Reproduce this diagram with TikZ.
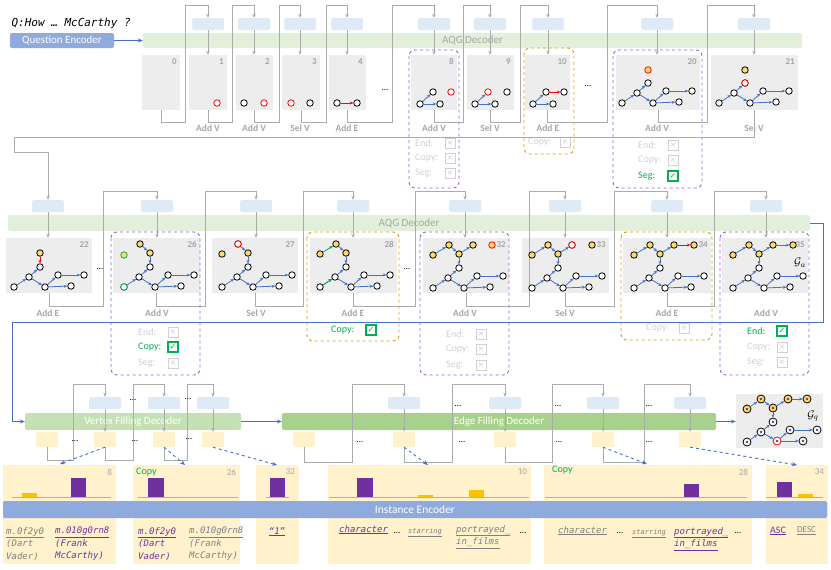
\documentclass[tikz,border=0pt]{standalone}
\usepackage{fontspec}
\setmainfont{Carlito}
\setmonofont{DejaVu Sans Mono}
\newfontfamily\symfont{DejaVu Sans}
\usetikzlibrary{arrows.meta,calc,positioning,fit}

\definecolor{panelgray}{HTML}{EDEDED}
\definecolor{hidblue}{HTML}{DEEBF7}
\definecolor{aqggreen}{HTML}{E2EFDA}
\definecolor{vfdgreen}{HTML}{C5E0B4}
\definecolor{efdgreen}{HTML}{A9D18E}
\definecolor{encblue}{HTML}{8FAADC}
\definecolor{outyel}{HTML}{FFF2CC}
\definecolor{linegray}{HTML}{ABABAB}
\definecolor{lblgray}{HTML}{A6A6A6}
\definecolor{faintgray}{HTML}{D0D0D0}
\definecolor{boxpurple}{HTML}{9B5FD0}
\definecolor{boxgold}{HTML}{D4A017}
\definecolor{okgreen}{HTML}{00B050}
\definecolor{gblue}{HTML}{4472C4}
\definecolor{barpurple}{HTML}{7030A0}
\definecolor{baryel}{HTML}{FFC000}
\definecolor{nodeyel}{HTML}{FFD966}
\definecolor{txtgray}{HTML}{808080}
\definecolor{axisblue}{HTML}{9FB4D8}

\tikzset{
  panel/.style={fill=panelgray, inner sep=0pt},
  pnum/.style={anchor=north east, inner sep=1pt, text=lblgray, font=\fontsize{9}{10}\selectfont\bfseries},
  hid/.style={fill=hidblue, rounded corners=1.5pt, minimum width=32pt, minimum height=12pt, inner sep=0pt},
  outbox/.style={fill=outyel, minimum width=22pt, minimum height=15pt, inner sep=0pt},
  bar/.style={rounded corners=2pt, inner sep=0pt},
  bartext/.style={inner sep=0pt, font=\fontsize{11}{12}\selectfont},
  flow/.style={draw=linegray, line width=0.9pt, -{Stealth[length=4pt,width=3.5pt]}},
  bflow/.style={draw=gblue, line width=0.9pt, -{Stealth[length=5pt,width=4pt]}},
  dflow/.style={bflow, dashed},
  op/.style={text=lblgray, font=\fontsize{9.5}{10}\selectfont\bfseries, inner sep=0pt},
  vtx/.style={circle, draw=black, fill=white, line width=0.8pt, minimum size=6.5pt, inner sep=0pt},
  newv/.style={draw=red},
  cpv/.style={fill=nodeyel},
  gedge/.style={draw=gblue, line width=0.8pt, -{Stealth[length=3.5pt,width=3pt]}},
  redge/.style={gedge, draw=red},
  cedge/.style={gedge, draw=okgreen},
  pdash/.style={draw=boxpurple, dashed, line width=0.9pt, rounded corners=6pt},
  gdash/.style={pdash, draw=boxgold},
  cblbl/.style={anchor=west, inner sep=0pt, text=faintgray, font=\fontsize{10}{11}\selectfont},
  cbx/.style={draw=faintgray, line width=0.8pt, text=faintgray, minimum size=10pt, inner sep=0pt, font=\symfont\fontsize{8}{8}\selectfont},
  cbgood/.style={draw=okgreen, text=okgreen, line width=1.1pt},
  dots/.style={inner sep=0pt, font=\fontsize{9}{10}\selectfont},
  dpanel/.style={fill=outyel, inner sep=0pt},
  dnum/.style={anchor=north east, inner sep=1pt, text=lblgray, font=\fontsize{9}{10}\selectfont},
  ent/.style={anchor=north west, align=left, inner sep=0pt, font=\ttfamily\itshape\fontsize{9}{12.5}\selectfont},
  axisline/.style={draw=axisblue, line width=0.8pt},
  qv/.style={vtx, minimum size=8pt, path picture={\fill[barpurple] (path picture bounding box.center) circle (1.4pt);}},
}

% graph panel with its step number
\newcommand{\gpanel}[6]{%
  \node[panel, fit={(#2,#3) (#4,#5)}] (#1) {};
  \node[pnum] (#1n) at (#4-2,#3+2) {#6};
}
% the lower part of the query graph
\newcommand{\basegraph}[3]{%
  \node[vtx] (#1a) at (#2,#3) {};
  \node[vtx] (#1b) at (#2+15,#3-10) {};
  \node[vtx] (#1c) at (#2+26,#3-20) {};
  \node[vtx] (#1d) at (#2+31,#3) {};
  \node[vtx] (#1e) at (#2+44,#3-12) {};
  \node[vtx] (#1f) at (#2+70,#3-12) {};
  \node[vtx] (#1g) at (#2+57,#3-1) {};
  \draw[gedge] (#1a) -- (#1b);
  \draw[gedge] (#1b) -- (#1c);
  \draw[gedge] (#1b) -- (#1d);
  \draw[gedge] (#1d) -- (#1e);
  \draw[gedge] (#1e) -- (#1f);
  \draw[gedge] (#1d) -- (#1g);
}
% copied vertices above it
\newcommand{\topchain}[3]{%
  \node[vtx,cpv] (#1y2) at (#2+16,#3-43) {};
  \node[vtx,cpv] (#1y3) at (#2+26,#3-34) {};
  \draw[gedge] (#1y2) -- (#1y3);
  \draw[gedge] (#1y3) -- (#1c);
}
\newcommand{\fullchain}[3]{%
  \node[vtx,cpv] (#1y1) at (#2,#3-33) {};
  \node[vtx,cpv] (#1y4) at (#2+40,#3-43) {};
  \draw[gedge] (#1y1) -- (#1y2);
  \draw[gedge] (#1y3) -- (#1y4);
}
\newcommand{\chkno}[5]{\node[cblbl] (#1l) at (#2,#4) {#5}; \node[cbx] (#1) at (#3,#4) {×};}
\newcommand{\chkok}[5]{\node[cblbl,text=okgreen] (#1l) at (#2,#4) {#5}; \node[cbx,cbgood] (#1) at (#3,#4) {✓};}

\begin{document}
\begin{tikzpicture}[x=1pt,y=-1pt]
\useasboundingbox (0,0) rectangle (831,570);
\coordinate (top1) at (0,5);
\coordinate (top2) at (0,191);
\coordinate (top3) at (0,384);
\coordinate (lab1) at (0,128);
\coordinate (lab2) at (0,313);

% ---------- row 1 ----------
\node[anchor=west, font=\ttfamily\itshape\fontsize{11}{12}\selectfont] (qtext) at (8,23) {Q:How … McCarthy ?};
\node[bar, fill=encblue, fit={(10,33) (114,48)}] (qenc) {};
\node[bartext, text=white] (qenct) at (qenc) {Question Encoder};
\node[bar, fill=aqggreen, fit={(143,33) (802,48)}] (aqg1) {};
\node[bartext, text=lblgray] (aqg1t) at (aqg1) {AQG Decoder};
\draw[bflow] (qenc) -- (aqg1);

\gpanel{p0}{142}{55}{180}{110}{0}
\gpanel{p1}{189}{55}{227}{110}{1}
\gpanel{p2}{236}{55}{273}{110}{2}
\gpanel{p3}{282}{55}{320}{110}{3}
\gpanel{p4}{329}{55}{366}{110}{4}
\gpanel{p8}{411}{55}{457}{110}{8}
\gpanel{p9}{467}{55}{514}{110}{9}
\gpanel{p10}{525}{55}{570}{110}{10}
\gpanel{p20}{616}{55}{700}{110}{20}
\gpanel{p21}{711}{55}{798}{110}{21}

\foreach \n/\x in {1/208,2/254,3/300,4/347,8/434,9/490,10/548,20/657,21/754}
  \node[hid] (h\n) at (\x,24) {};
\foreach \n in {1,2,3,4,8,9,10,20,21}
  \draw[flow] (h\n) -- (h\n |- p\n.north);
\foreach \a/\x/\b in {0/185/1,1/232/2,2/279/3,3/326/4,4/392/8,8/463/9,9/520/10,10/607/20,20/707/21}
  \draw[flow] (p\a.south) |- (\x,122) |- (h\b |- top1) -- (h\b);
\foreach \n/\t in {1/Add V,2/Add V,3/Sel V,4/Add E,8/Add V,9/Sel V,10/Add E,20/Add V,21/Sel V}
  \node[op] (op\n) at (h\n |- lab1) {\t};

\node[vtx,newv] (g1a) at (217,103) {};
\node[vtx] (g2a) at (244,103) {};
\node[vtx,newv] (g2b) at (264,103) {};
\node[vtx,newv] (g3a) at (291,103) {};
\node[vtx] (g3b) at (310,103) {};
\node[vtx] (g4a) at (337,103) {};
\node[vtx] (g4b) at (357,103) {};
\draw[redge] (g4a) -- (g4b);
\node[vtx] (g8a) at (420,104) {};
\node[vtx] (g8b) at (433,92) {};
\node[vtx] (g8c) at (440,104) {};
\node[vtx,newv] (g8d) at (451,92) {};
\draw[gedge] (g8a) -- (g8b);
\draw[gedge] (g8a) -- (g8c);
\node[vtx] (g9a) at (475,104) {};
\node[vtx,newv] (g9b) at (488,92) {};
\node[vtx] (g9c) at (495,104) {};
\node[vtx] (g9d) at (507,92) {};
\draw[gedge] (g9a) -- (g9b);
\draw[gedge] (g9a) -- (g9c);
\node[vtx] (g10a) at (533,104) {};
\node[vtx] (g10b) at (546,92) {};
\node[vtx] (g10c) at (553,104) {};
\node[vtx] (g10d) at (564,92) {};
\draw[gedge] (g10a) -- (g10b);
\draw[gedge] (g10a) -- (g10c);
\draw[redge] (g10b) -- (g10d);
\basegraph{g20}{622}{103}
\node[vtx,newv,cpv] (g20h) at (648,70) {};
\basegraph{g21}{719}{103}
\node[vtx,newv] (g21s) at (g21c) {};
\node[vtx,cpv] (g21h) at (745,70) {};

\node[dots] (dot1) at (385,90) {…};
\node[dots] (dot2) at (588,86) {…};

\draw[pdash] (409,50) rectangle (459,188);
\draw[gdash] (524,48) rectangle (574,154);
\draw[pdash] (613,50) rectangle (702,188);
\chkno{c8a}{415}{450}{143}{End:}
\chkno{c8b}{415}{450}{158}{Copy:}
\chkno{c8c}{415}{450}{173}{Seg:}
\chkno{c10a}{528}{565}{142}{Copy:}
\chkno{c20a}{638}{673}{145}{End:}
\chkno{c20b}{638}{673}{160}{Copy:}
\chkok{c20c}{638}{673}{176}{Seg:}

% ---------- row 2 ----------
\node[bar, fill=aqggreen, fit={(8,215) (810,231)}] (aqg2) {};
\node[bartext, text=lblgray] (aqg2t) at (aqg2) {AQG Decoder};

\gpanel{p22}{6}{238}{92}{293}{22}
\gpanel{p26}{113}{238}{200}{293}{26}
\gpanel{p27}{212}{238}{298}{293}{27}
\gpanel{p28}{310}{238}{397}{293}{28}
\gpanel{p32}{423}{238}{509}{293}{32}
\gpanel{p33}{522}{238}{609}{293}{33}
\gpanel{p34}{623}{238}{711}{293}{34}
\gpanel{p35}{722}{238}{808}{293}{35}

\foreach \n/\x in {22/48,26/157,27/256,28/353,32/465,33/565,34/667,35/766}
  \node[hid] (h\n) at (\x,206) {};
\foreach \n in {22,26,27,28,32,33,34,35}
  \draw[flow] (h\n) -- (h\n |- p\n.north);
\draw[flow] (p21.south) |- (14,137) -- (14,152) -| (h22);
\foreach \a/\x/\b in {22/103/26,26/205/27,27/303/28,28/415/32,32/529/33,33/614/34,34/714/35}
  \draw[flow] (p\a.south) |- (\x,306) |- (h\b |- top2) -- (h\b);
\foreach \n/\t in {22/Add E,26/Add V,27/Sel V,28/Add E,32/Add V,33/Sel V,34/Add E,35/Add V}
  \node[op] (op\n) at (h\n |- lab2) {\t};

\basegraph{g22}{14}{287}
\node[vtx,cpv] (g22h) at (40,253) {};
\draw[redge] (g22h) -- (g22c);
\basegraph{g26}{124}{287}
\node[vtx,draw=okgreen] (g26s) at (g26a) {};
\topchain{g26}{124}{287}
\node[vtx,cpv,draw=okgreen] (g26y1) at (124,255) {};
\basegraph{g27}{222}{287}
\topchain{g27}{222}{287}
\node[vtx,newv] (g27s) at (g27y2) {};
\node[vtx,cpv] (g27y1) at (222,254) {};
\basegraph{g28}{320}{287}
\topchain{g28}{320}{287}
\node[vtx,cpv] (g28y1) at (320,254) {};
\draw[cedge] (g28y1) -- (g28y2);
\draw[cedge] (g28a) -- (g28b);
\basegraph{g32}{433}{288}
\topchain{g32}{433}{288}
\fullchain{g32}{433}{288}
\node[vtx,newv,cpv] (g32n) at (492,245) {};
\basegraph{g33}{532}{288}
\topchain{g33}{532}{288}
\fullchain{g33}{532}{288}
\node[vtx,newv] (g33s) at (g33y4) {};
\node[vtx,cpv] (g33n) at (592,245) {};
\basegraph{g34}{634}{288}
\topchain{g34}{634}{288}
\fullchain{g34}{634}{288}
\node[vtx,cpv] (g34y5) at (694,245) {};
\draw[redge] (g34y4) -- (g34y5);
\basegraph{g35}{733}{288}
\topchain{g35}{733}{288}
\fullchain{g35}{733}{288}
\node[vtx,cpv] (g35y5) at (793,245) {};
\draw[gedge] (g35y4) -- (g35y5);
\node[font=\fontsize{11}{12}\selectfont] (ga) at (800,263) {$\mathcal{G}_a$};

\node[dots] (dot3) at (100,269) {…};
\node[dots] (dot4) at (407,269) {…};

\draw[pdash] (111,232) rectangle (200,375);
\draw[gdash] (307,232) rectangle (399,341);
\draw[pdash] (420,232) rectangle (509,375);
\draw[gdash] (621,232) rectangle (712,340);
\draw[pdash] (720,232) rectangle (809,375);
\chkno{c26a}{138}{173}{332}{End:}
\chkok{c26b}{138}{173}{347}{Copy:}
\chkno{c26c}{138}{173}{363}{Seg:}
\chkok{c28a}{331}{371}{330}{Copy:}
\chkno{c32a}{446}{481}{334}{End:}
\chkno{c32b}{446}{481}{349}{Copy:}
\chkno{c32c}{446}{481}{365}{Seg:}
\chkno{c34a}{646}{684}{328}{Copy:}
\chkok{c35a}{747}{782}{331}{End:}
\chkno{c35b}{747}{782}{347}{Copy:}
\chkno{c35c}{747}{782}{362}{Seg:}

% ---------- row 3 ----------
\node[bar, fill=vfdgreen, fit={(25,413) (241,430)}] (vfd) {};
\node[bartext, text=white] (vfdt) at (vfd) {Vertex Filling Decoder};
\node[bar, fill=efdgreen, fit={(282,413) (716,430)}] (efd) {};
\node[bartext, text=white] (efdt) at (efd) {Edge Filling Decoder};
\draw[bflow] (aqg2.east) -- (823,223) |- (12,322) |- (vfd.west);
\draw[bflow] (vfd) -- (efd);

\foreach \n/\x in {v1/105,v2/164,v3/213,e1/404,e2/505,e3/603,e4/690}
  \node[hid] (\n) at (\x,403) {};
\foreach \n/\x in {o1/47,o2/105,o3/164,o4/213,eo1/304,eo2/404,eo3/505,eo4/603,eo5/690}
  \node[outbox] (\n) at (\x,439.5) {};
\foreach \a/\b in {v1/o2,v2/o3,v3/o4,e1/eo2,e2/eo3,e3/eo4,e4/eo5}
  \draw[flow] (\a) -- (\a |- \b.north);
\foreach \a/\x/\b in {o1/73/v1,o2/133/v2,o3/187/v3}
  \draw[flow] (\a.south) |- (\x,460) |- (\b |- top3) -- (\b);
\foreach \a/\x/\b in {eo1/352/e1,eo2/452/e2,eo3/552/e3,eo4/644/e4}
  \draw[flow] (\a.south) |- (\x,462) |- (\b |- top3) -- (\b);
\foreach \x/\y [count=\i from 5] in {133/400,188/399,458/406,558/406,649/406,75/441,135/441,189/439,360/442,462/442,559/442,649/442}
  \node[dots] (dot\i) at (\x,\y) {…};

\node[panel, fit={(736,394) (823,448)}] (gq) {};
\draw[bflow] (efd.east) -- (efd.east -| gq.west);
\node[qv] (qa) at (747,442) {};
\node[qv] (qb) at (761,432) {};
\node[qv] (qc) at (773,422) {};
\node[qv,draw=red] (qd) at (777,441) {};
\node[qv] (qe) at (790,430) {};
\node[qv] (qf) at (817,430) {};
\node[qv] (qg) at (803,441) {};
\node[qv,cpv] (q1) at (747,409) {};
\node[qv,cpv] (q2) at (761,399) {};
\node[qv,cpv] (q3) at (773,408) {};
\node[qv,cpv] (q4) at (788,399) {};
\node[qv,cpv] (q5) at (807,399) {};
\foreach \a/\b in {q1/q2,q2/q3,q3/qc,q3/q4,q4/q5,qa/qb,qb/qc,qb/qd,qd/qe,qe/qf,qd/qg}
  \draw[gedge] (\a) -- (\b);
\node[font=\fontsize{11}{12}\selectfont] (gql) at (813,416) {$\mathcal{G}_q$};

% ---------- instance distributions ----------
\node[dpanel, fit={(3,465) (116,564)}] (d8) {};
\node[dpanel, fit={(133,465) (240,564)}] (d26) {};
\node[dpanel, fit={(256,465) (299,564)}] (d32) {};
\node[dpanel, fit={(328,465) (531,564)}] (d10) {};
\node[dpanel, fit={(544,465) (752,564)}] (d28) {};
\node[dpanel, fit={(766,465) (828,564)}] (d34) {};
\foreach \n in {8,26,32,10,28,34}
  \node[dnum] (d\n n) at ($(d\n.north east)+(-3,3)$) {\n};
\node[anchor=west, inner sep=0pt, text=okgreen, font=\fontsize{10}{11}\selectfont] (cp26) at (136,472) {Copy};
\node[anchor=west, inner sep=0pt, text=okgreen, font=\fontsize{10}{11}\selectfont] (cp28) at (552,470) {Copy};

\coordinate (d8in) at (60,464);
\coordinate (d26in) at (185,465);
\coordinate (d32in) at (277,465);
\coordinate (d10in) at (428,465);
\coordinate (d28in) at (647,464);
\coordinate (d34in) at (797,465);
\draw[dflow] (o2.south) -- (d8in);
\draw[dflow] (o3.south) -- (d26in);
\draw[dflow] (o4.south) -- (d32in);
\draw[dflow] (eo2.south) -- (d10in);
\draw[dflow] (eo4.south) -- (d28in);
\draw[dflow] (eo5.south) -- (d34in);

% bars
\fill[baryel] (22,493) rectangle (37,497);
\fill[barpurple] (71,478) rectangle (86,497);
\fill[barpurple] (148,478) rectangle (164,497);
\fill[barpurple] (270,478) rectangle (285,497);
\fill[barpurple] (357,478) rectangle (373,497);
\fill[baryel] (418,495) rectangle (433,497);
\fill[baryel] (469,490) rectangle (484,497);
\fill[barpurple] (684,484) rectangle (699,497);
\fill[barpurple] (777,482) rectangle (792,497);
\fill[baryel] (798,494) rectangle (813,497);
\draw[axisline] (12,497) -- (111,497);
\draw[axisline] (138,497) -- (238,497);
\draw[axisline] (266,497) -- (289,497);
\draw[axisline] (329,497) -- (529,497);
\draw[axisline] (545,497) -- (747,497);
\draw[axisline] (766,497) -- (823,497);

\node[bar, fill=encblue, fit={(3,501) (827,518)}] (ienc) {};
\node[bartext, text=white, font=\fontsize{11.5}{12}\selectfont] (ienct) at (ienc) {Instance Encoder};

% candidates
\node[ent, text=txtgray] (t8a) at (6,527) {\underline{m.0f2y0}\\(Dart\\Vader)};
\node[ent, text=barpurple] (t8b) at (55,527) {\underline{m.010g0rn8}\\(Frank\\McCarthy)};
\node[ent, text=barpurple] (t26a) at (138,527) {\underline{m.0f2y0}\\(Dart\\Vader)};
\node[ent, text=txtgray] (t26b) at (189,527) {\underline{m.010g0rn8}\\(Frank\\McCarthy)};
\node[ent, anchor=north, text=barpurple] (t32) at (277,527) {\underline{“1”}};
\node[ent, text=barpurple] (t10a) at (339,525) {\underline{character}};
\node[dots] (t10b) at (397,533) {…};
\node[ent, text=txtgray, font=\ttfamily\itshape\fontsize{7}{8}\selectfont] (t10c) at (408,528) {\underline{starring}};
\node[ent, text=txtgray] (t10d) at (456,525) {\underline{portrayed\_}\\\underline{in\_films}};
\node[dots] (t10e) at (523,533) {…};
\node[ent, text=txtgray] (t28a) at (558,526) {\underline{character}};
\node[dots] (t28b) at (620,533) {…};
\node[ent, text=txtgray, font=\ttfamily\itshape\fontsize{7}{8}\selectfont] (t28c) at (632,529) {\underline{starring}};
\node[ent, text=barpurple] (t28d) at (674,527) {\underline{portrayed\_}\\\underline{in\_films}};
\node[dots] (t28e) at (738,533) {…};
\node[anchor=west, inner sep=0pt, text=barpurple, font=\fontsize{10}{11}\selectfont] (t34a) at (770,531) {\underline{ASC}};
\node[anchor=west, inner sep=0pt, text=txtgray, font=\fontsize{9}{10}\selectfont] (t34b) at (797,531) {\underline{DESC}};
\end{tikzpicture}
\end{document}
